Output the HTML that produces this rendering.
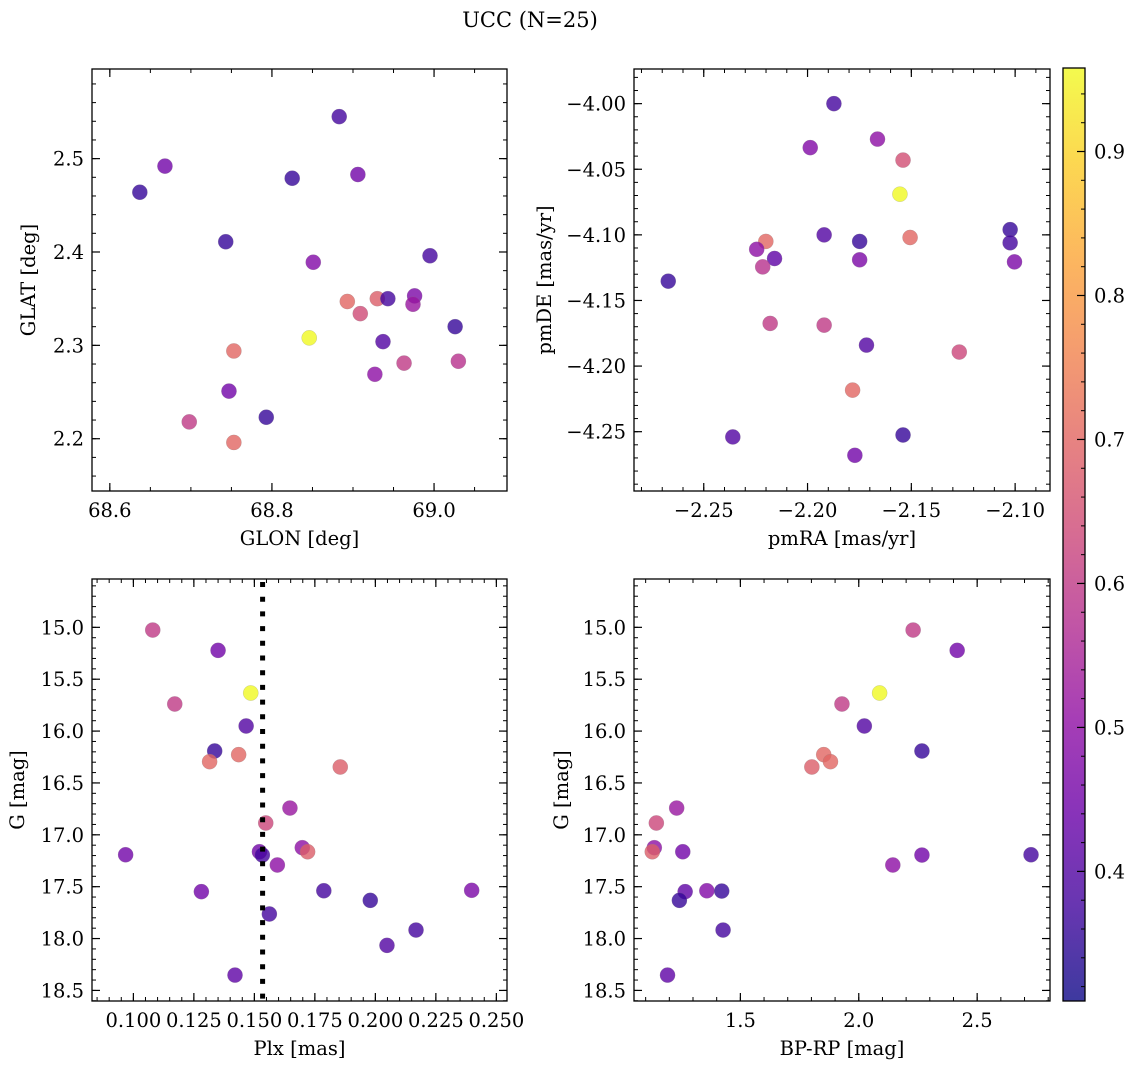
<!DOCTYPE html>
<html><head><meta charset="utf-8">
<style>
html,body{margin:0;padding:0;background:#fff;}
svg{display:block;font-family:"DejaVu Serif","Liberation Serif",serif;}
</style></head>
<body>
<svg id="fig" width="1136" height="1068" viewBox="0 0 1136 1068" xmlns="http://www.w3.org/2000/svg">
<defs>
<linearGradient id="cbgrad" x1="0" y1="1" x2="0" y2="0">
<stop offset="0" stop-color="#0d0887"/>
<stop offset="0.1" stop-color="#41049d"/>
<stop offset="0.2" stop-color="#6a00a8"/>
<stop offset="0.3" stop-color="#8f0da4"/>
<stop offset="0.4" stop-color="#b12a90"/>
<stop offset="0.5" stop-color="#cc4778"/>
<stop offset="0.6" stop-color="#e16462"/>
<stop offset="0.7" stop-color="#f2844b"/>
<stop offset="0.8" stop-color="#fca636"/>
<stop offset="0.9" stop-color="#fcce25"/>
<stop offset="1" stop-color="#f0f921"/>
</linearGradient>
</defs>
<text x="530" y="27" font-size="21" text-anchor="middle">UCC (N=25)</text>
</svg>
<script>
// ---- data: panel 1 (GLON vs GLAT)
const glon1 = [68.637,68.668,68.743,68.825,68.883,68.906,68.851,68.995,68.893,68.930,68.943,68.909,68.976,68.974,69.026,68.937,68.753,68.846,68.963,69.030,68.927,68.747,68.793,68.698,68.753];
const glat1 = [2.464,2.492,2.411,2.479,2.545,2.483,2.389,2.396,2.347,2.350,2.350,2.334,2.353,2.344,2.320,2.304,2.294,2.308,2.281,2.283,2.269,2.251,2.223,2.218,2.196];
const col1  = [0.36,0.45,0.36,0.36,0.38,0.45,0.48,0.38,0.70,0.68,0.38,0.64,0.47,0.52,0.36,0.40,0.70,0.96,0.60,0.58,0.50,0.45,0.36,0.60,0.70];
// ---- panel 2 (pmRA vs pmDE)
const pmra2 = [-2.1873,-2.1663,-2.1987,-2.1540,-2.1555,-2.1024,-2.1920,-2.1749,-2.2201,-2.1506,-2.1024,-2.2245,-2.2159,-2.1749,-2.1003,-2.2216,-2.2671,-2.2180,-2.1920,-2.1716,-2.1269,-2.1783,-2.1540,-2.2360,-2.1772];
const pmde2 = [-4.000,-4.027,-4.0335,-4.043,-4.069,-4.096,-4.100,-4.105,-4.105,-4.102,-4.106,-4.111,-4.118,-4.119,-4.1206,-4.1244,-4.1353,-4.1675,-4.1688,-4.184,-4.1893,-4.2183,-4.2525,-4.254,-4.268];
const col2  = [0.38,0.50,0.48,0.65,0.96,0.36,0.40,0.36,0.70,0.70,0.38,0.50,0.42,0.47,0.47,0.58,0.36,0.60,0.60,0.40,0.63,0.70,0.36,0.40,0.45];
// ---- panel 3 (Plx vs G)
const plx3 = [0.1080,0.1350,0.1485,0.1171,0.1466,0.1336,0.1435,0.1315,0.1855,0.1647,0.1547,0.1698,0.1720,0.1521,0.1533,0.0968,0.1595,0.1281,0.1787,0.2398,0.1979,0.1562,0.2168,0.2048,0.1420];
const g3   = [15.026,15.222,15.633,15.739,15.951,16.192,16.227,16.295,16.346,16.742,16.886,17.124,17.163,17.163,17.195,17.192,17.291,17.548,17.539,17.535,17.632,17.763,17.918,18.066,18.352];
const col3 = [0.60,0.45,0.96,0.60,0.40,0.36,0.70,0.70,0.68,0.52,0.63,0.50,0.68,0.45,0.38,0.45,0.50,0.45,0.38,0.47,0.36,0.38,0.38,0.40,0.42];
const plxRef = 0.1534;
// ---- panel 4 (BP-RP vs G)
const bprp4 = [2.2296,2.4156,2.088,1.929,2.0236,2.2668,1.852,1.8805,1.8019,1.231,1.1452,1.1366,1.128,1.2568,2.7275,2.2668,2.1438,1.2668,1.3584,1.4213,1.2425,1.427,1.1924];
const g4    = [15.026,15.222,15.633,15.739,15.951,16.192,16.227,16.295,16.346,16.742,16.886,17.124,17.163,17.163,17.192,17.195,17.291,17.548,17.539,17.542,17.632,17.918,18.352];
const col4  = [0.60,0.45,0.96,0.60,0.40,0.36,0.70,0.70,0.68,0.52,0.63,0.50,0.68,0.45,0.38,0.45,0.50,0.42,0.48,0.36,0.36,0.38,0.42];
// ---- tick labels
const ticks1x = [68.6,68.8,69.0], ticks1y = [2.2,2.3,2.4,2.5];
const ticks2x = [-2.25,-2.20,-2.15,-2.10], ticks2y = [-4.25,-4.20,-4.15,-4.10,-4.05,-4.00];
const ticks3x = [0.100,0.125,0.150,0.175,0.200,0.225,0.250], ticks3y = [15.0,15.5,16.0,16.5,17.0,17.5,18.0,18.5];
const ticks4x = [1.5,2.0,2.5], ticks4y = [15.0,15.5,16.0,16.5,17.0,17.5,18.0,18.5];
const cbTicks = [0.4,0.5,0.6,0.7,0.8,0.9];
const cMin = 0.31, cMax = 0.958;

const NS = "http://www.w3.org/2000/svg";
const fig = document.getElementById('fig');
const FS = 19.5;
function mk(tag, attrs, parent){ const e=document.createElementNS(NS,tag); for(const k in attrs) e.setAttribute(k,attrs[k]); (parent||fig).appendChild(e); return e; }

const stops=[[0,[13,8,135]],[0.1,[65,4,157]],[0.2,[106,0,168]],[0.3,[143,13,164]],[0.4,[177,42,144]],[0.5,[204,71,120]],[0.6,[225,100,98]],[0.7,[242,132,75]],[0.8,[252,166,54]],[0.9,[252,206,37]],[1,[240,249,33]]];
function plasma(t){ t=Math.max(0,Math.min(1,t)); for(let i=1;i<stops.length;i++){ if(t<=stops[i][0]){ const a=stops[i-1],b=stops[i],f=(t-a[0])/(b[0]-a[0]); const c=a[1].map((v,j)=>Math.round(v+(b[1][j]-v)*f)); return `rgb(${c[0]},${c[1]},${c[2]})`; } } return 'rgb(240,249,33)'; }
function cnorm(v){ return (v-cMin)/(cMax-cMin); }
function fmt(v,d){ const s=Math.abs(v).toFixed(d); return (v<0?'\u2212':'')+s; }

function panel(p){
  const g = mk('g',{});
  
  
  const sx = v => p.x0 + (v-p.xmin)/(p.xmax-p.xmin)*(p.x1-p.x0);
  const sy = v => p.inv ? p.y0 + (v-p.ymin)/(p.ymax-p.ymin)*(p.y1-p.y0) : p.y1 - (v-p.ymin)/(p.ymax-p.ymin)*(p.y1-p.y0);
  const lo = Math.ceil(p.xmin/p.xminor-1e-9), hi=Math.floor(p.xmax/p.xminor+1e-9);
  for(let i=lo;i<=hi;i++){ const x=sx(i*p.xminor); mk('line',{x1:x,x2:x,y1:p.y1,y2:p.y1-4,stroke:'#000','stroke-width':1},g); mk('line',{x1:x,x2:x,y1:p.y0,y2:p.y0+4,stroke:'#000','stroke-width':1},g); }
  const ylo = Math.ceil(p.ymin/p.yminor-1e-9), yhi=Math.floor(p.ymax/p.yminor+1e-9);
  for(let i=ylo;i<=yhi;i++){ const y=sy(i*p.yminor); mk('line',{x1:p.x0,x2:p.x0+4,y1:y,y2:y,stroke:'#000','stroke-width':1},g); mk('line',{x1:p.x1,x2:p.x1-4,y1:y,y2:y,stroke:'#000','stroke-width':1},g); }
  p.xt.forEach(v=>{ const x=sx(v); mk('line',{x1:x,x2:x,y1:p.y1,y2:p.y1-8,stroke:'#000','stroke-width':1.2},g); mk('line',{x1:x,x2:x,y1:p.y0,y2:p.y0+8,stroke:'#000','stroke-width':1.2},g);
    const t=mk('text',{x:x,y:p.y1+26,'font-size':FS,'text-anchor':'middle'},g); t.textContent=fmt(v,p.xd);
    
     });
  p.yt.forEach(v=>{ const y=sy(v); mk('line',{x1:p.x0,x2:p.x0+8,y1:y,y2:y,stroke:'#000','stroke-width':1.2},g); mk('line',{x1:p.x1,x2:p.x1-8,y1:y,y2:y,stroke:'#000','stroke-width':1.2},g);
    const t=mk('text',{x:p.x0-8,y:y+7,'font-size':FS,'text-anchor':'end'},g); t.textContent=fmt(v,p.yd);
    
     });
  p.xs.forEach((v,i)=>{ const c=mk('circle',{cx:sx(v),cy:sy(p.ys[i]),r:7.6,fill:plasma(cnorm(p.cs[i])),'fill-opacity':0.8,stroke:'#888','stroke-width':0.4,'stroke-opacity':0.5},g);
    
     });
  if(p.vline!==undefined){ const x=sx(p.vline); const l=mk('line',{x1:x,x2:x,y1:p.y0+3,y2:p.y1,stroke:'#000','stroke-width':5,'stroke-dasharray':'5 9.7'},g);
    
     }
  const f=mk('rect',{x:p.x0,y:p.y0,width:p.x1-p.x0,height:p.y1-p.y0,fill:'none',stroke:'#000','stroke-width':1.3},g);
  
  
  const xl=mk('text',{x:(p.x0+p.x1)/2,y:p.y1+54,'font-size':FS,'text-anchor':'middle'},g); xl.textContent=p.xlab;
  
  
  const yl=mk('text',{x:0,y:0,'font-size':FS,'text-anchor':'middle',transform:`translate(${p.ylx},${(p.y0+p.y1)/2}) rotate(-90)`},g); yl.textContent=p.ylab;
  
  
}

panel({name:'glon-glat-panel',x0:92,x1:507,y0:69,y1:491,xmin:68.578,xmax:69.090,ymin:2.144,ymax:2.596,xt:ticks1x,yt:ticks1y,xd:1,yd:1,xminor:0.05,yminor:0.02,xs:glon1,ys:glat1,cs:col1,xlab:'GLON [deg]',ylab:'GLAT [deg]',ylx:35});
panel({name:'pm-panel',x0:634,x1:1050,y0:69,y1:491,xmin:-2.2836,xmax:-2.0832,ymin:-4.2952,ymax:-3.9736,xt:ticks2x,yt:ticks2y,xd:2,yd:2,xminor:0.01,yminor:0.01,xs:pmra2,ys:pmde2,cs:col2,xlab:'pmRA [mas/yr]',ylab:'pmDE [mas/yr]',ylx:551});
panel({name:'plx-g-panel',x0:92,x1:507,y0:579,y1:1001,xmin:0.0829,xmax:0.2544,ymin:14.534,ymax:18.602,inv:true,xt:ticks3x,yt:ticks3y,xd:3,yd:1,xminor:0.005,yminor:0.1,xs:plx3,ys:g3,cs:col3,vline:plxRef,xlab:'Plx [mas]',ylab:'G [mag]',ylx:24});
panel({name:'cmd-panel',x0:634,x1:1050,y0:579,y1:1001,xmin:1.0508,xmax:2.8076,ymin:14.534,ymax:18.602,inv:true,xt:ticks4x,yt:ticks4y,xd:1,yd:1,xminor:0.1,yminor:0.1,xs:bprp4,ys:g4,cs:col4,xlab:'BP-RP [mag]',ylab:'G [mag]',ylx:568});

const cb = mk('g',{});


const cbx0=1063, cbx1=1085, cby0=68, cby1=1001;
const cy = v => cby1 - (v-cMin)/(cMax-cMin)*(cby1-cby0);
mk('rect',{x:cbx0,y:cby0,width:cbx1-cbx0,height:cby1-cby0,fill:'url(#cbgrad)','fill-opacity':0.8},cb);
for(let i=Math.ceil(cMin/0.02);i<=Math.floor(cMax/0.02);i++){ const y=cy(i*0.02); mk('line',{x1:cbx1,x2:cbx1-4,y1:y,y2:y,stroke:'#000','stroke-width':1},cb); }
cbTicks.forEach(v=>{ const y=cy(v); mk('line',{x1:cbx1,x2:cbx1-8,y1:y,y2:y,stroke:'#000','stroke-width':1.2},cb);
  const t=mk('text',{x:cbx1+9,y:y+7,'font-size':FS},cb); t.textContent=v.toFixed(1);
  
   });
mk('rect',{x:cbx0,y:cby0,width:cbx1-cbx0,height:cby1-cby0,fill:'none',stroke:'#000','stroke-width':1.3},cb);
</script>
</body></html>
